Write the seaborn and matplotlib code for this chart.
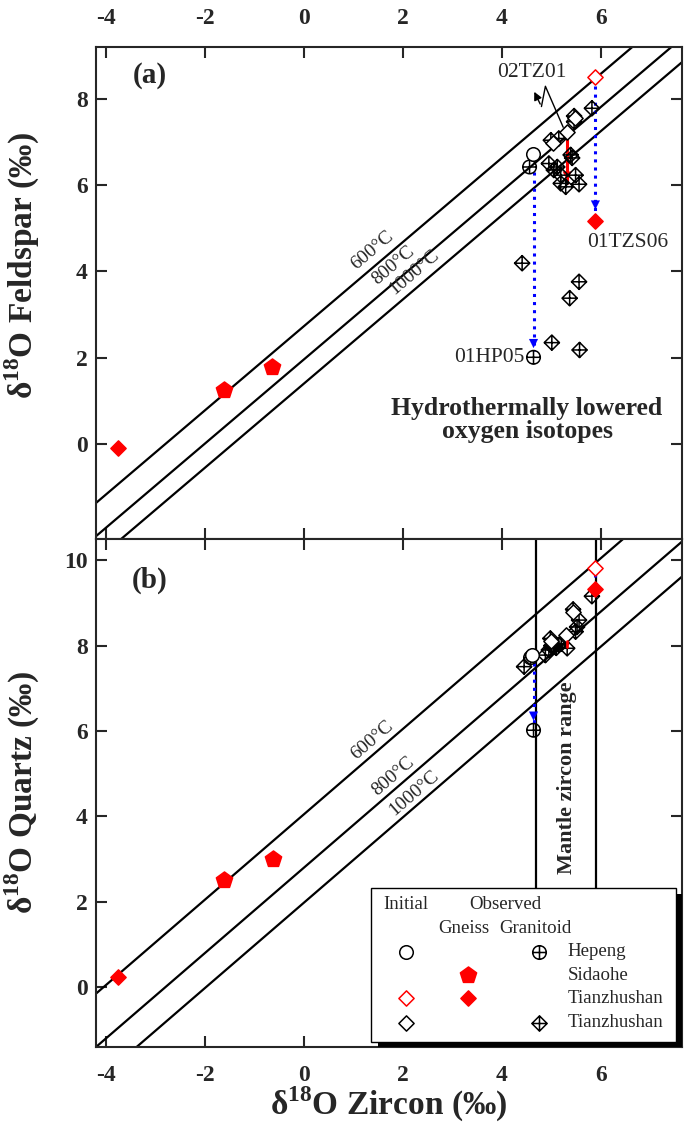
import numpy as np
import pandas as pd
import seaborn as sns
import matplotlib.pyplot as plt
from matplotlib.path import Path
from matplotlib.patches import Rectangle

sns.set_style('ticks')
plt.rcParams['font.family'] = ['Liberation Serif', 'DejaVu Serif']
plt.rcParams['mathtext.fontset'] = 'custom'
plt.rcParams['mathtext.rm'] = 'Liberation Serif'
plt.rcParams['mathtext.bf'] = 'Liberation Serif:bold'
plt.rcParams['axes.unicode_minus'] = False

# equilibrium fractionations mineral - zircon (permil) at zircon = 0
temps = ['600°C', '800°C', '1000°C']
fsp_delta = [2.73, 1.96, 1.40]
fsp_slope = 0.975
qz_delta = [4.05, 2.80, 1.98]
qz_slope = 1.0
label_x = [1.50, 1.92, 2.34]
mantle_range = [4.7, 5.9]

# (a) feldspar panel
a_hp_init_x = [4.62]
a_hp_init_y = [6.72]
a_hp_obs_x = [4.56, 4.64]
a_hp_obs_y = [6.42, 2.01]
a_sd_obs_x = [-1.62, -0.64]
a_sd_obs_y = [1.25, 1.79]
a_tzg_init_x = [5.89]
a_tzg_init_y = [8.50]
a_tzg_obs_x = [5.89, -3.75]
a_tzg_obs_y = [5.17, -0.10]
a_tzr_init_x = [5.32, 5.48, 5.03]
a_tzr_init_y = [7.22, 7.55, 6.98]
a_tzr_obs_x = [5.82, 5.46, 5.46, 4.99, 5.15, 5.39, 5.42, 4.95, 5.12, 5.05, 5.19, 5.49, 5.19, 5.29,
               5.56, 4.41, 5.56, 5.37, 5.01, 5.57]
a_tzr_obs_y = [7.78, 7.60, 7.47, 7.04, 7.08, 6.70, 6.63, 6.50, 6.42, 6.35, 6.23, 6.23, 6.04, 5.96,
               6.02, 4.19, 3.76, 3.38, 2.35, 2.18]

# (b) quartz panel
b_hp_init_x = [4.61]
b_hp_init_y = [7.78]
b_hp_obs_x = [4.58, 4.64]
b_hp_obs_y = [7.72, 6.02]
b_sd_obs_x = [-1.62, -0.63]
b_sd_obs_y = [2.51, 3.00]
b_tzg_init_x = [5.89]
b_tzg_init_y = [9.83]
b_tzg_obs_x = [5.89, -3.75]
b_tzg_obs_y = [9.33, 0.25]
b_tzr_init_x = [5.30, 5.44, 5.00]
b_tzr_init_y = [8.25, 8.80, 8.10]
b_tzr_obs_x = [5.82, 5.44, 5.56, 5.52, 5.49, 5.32, 4.98, 5.05, 4.95, 4.88, 5.15, 4.45, 5.10, 5.20, 5.00]
b_tzr_obs_y = [9.16, 8.85, 8.60, 8.44, 8.33, 7.94, 8.17, 7.97, 7.90, 7.78, 8.02, 7.51, 7.95, 8.05, 8.00]

# custom markers
M, L = Path.MOVETO, Path.LINETO
diamond = Path([[0, 1], [1, 0], [0, -1], [-1, 0], [0, 1]], [M, L, L, L, Path.CLOSEPOLY])
cross = Path([[0, 1], [0, -1], [-1, 0], [1, 0]], [M, L, M, L])
diamond_plus = Path.make_compound_path(diamond, cross)
circle_plus = Path.make_compound_path(Path.unit_circle(), cross)

styles = {
    'hp_init': dict(marker='o', s=95, facecolor='white', edgecolor='black'),
    'hp_obs': dict(marker=circle_plus, s=95, facecolor='none', edgecolor='black'),
    'sd_obs': dict(marker='p', s=150, facecolor='red', edgecolor='red'),
    'tzg_init': dict(marker=diamond, s=120, facecolor='white', edgecolor='red'),
    'tzg_obs': dict(marker=diamond, s=120, facecolor='red', edgecolor='red'),
    'tzr_init': dict(marker=diamond, s=120, facecolor='white', edgecolor='black'),
    'tzr_obs': dict(marker=diamond_plus, s=120, facecolor='none', edgecolor='black'),
}


def make_df(prefix):
    g = globals()
    rows = []
    for key in styles:
        xs = g[f'{prefix}_{key}_x']
        ys = g[f'{prefix}_{key}_y']
        rows += [(key, x, y) for x, y in zip(xs, ys)]
    return pd.DataFrame(rows, columns=['group', 'zircon', 'mineral'])


def arrow(ax, x, y0, y1, color, ls):
    ax.plot([x, x], [y0, y1], color=color, ls=ls, lw=2.2, zorder=4)
    ax.annotate('', xy=(x, y1), xytext=(x, y1 + 0.3),
                arrowprops=dict(arrowstyle='-|>', color=color, lw=0.1, mutation_scale=16), zorder=4)


def draw_panel(ax, df, deltas, slope, lab_off, tag, tag_y):
    ang = np.degrees(np.arctan(slope))
    for d, t, lx in zip(deltas, temps, label_x):
        ax.axline((0, d), slope=slope, color='black', lw=1.6, zorder=1)
        ax.text(lx, slope * lx + d + lab_off, t, fontsize=14, ha='center', va='bottom', rotation=ang,
                rotation_mode='anchor', transform_rotates_text=True)
    order = ['tzr_obs', 'tzr_init', 'hp_obs', 'hp_init', 'sd_obs', 'tzg_init', 'tzg_obs']
    for key in order:
        sub = df[df['group'] == key]
        sns.scatterplot(data=sub, x='zircon', y='mineral', ax=ax, linewidth=1.1, zorder=5,
                        legend=False, **styles[key])
    ax.set_xlim(-4.2, 7.64)
    ax.set_xticks([-4, -2, 0, 2, 4, 6])
    ax.tick_params(direction='in', length=8, width=1.5, top=True, right=True, labelsize=17, pad=6)
    for sp in ax.spines.values():
        sp.set_linewidth(1.5)
    ax.text(0.092, tag_y, tag, transform=ax.transAxes, fontsize=21, fontweight='bold',
            ha='center', va='center')


fig = plt.figure(figsize=(6.85, 11.43), dpi=100)
ax1 = fig.add_axes([96 / 685, 1 - 539 / 1143, 586 / 685, 492 / 1143])
ax2 = fig.add_axes([96 / 685, 1 - 1047 / 1143, 586 / 685, 508 / 1143])

df_a = make_df('a')
df_b = make_df('b')

draw_panel(ax1, df_a, fsp_delta, fsp_slope, 0.15, '(a)', 0.943)
ax1.set_ylim(-2.2, 9.2)
ax1.set_yticks([0, 2, 4, 6, 8])
ax1.tick_params(labeltop=True, labelbottom=False)
ax1.tick_params(axis='x', pad=13)
ax1.set_ylabel('δ$^{\\mathbf{18}}$O Feldspar (‰)', fontsize=24, fontweight='bold')
ax1.yaxis.set_label_coords(-0.125, 0.555)
ax1.yaxis.label.set_va('center')
for lab in ax1.get_xticklabels() + ax1.get_yticklabels():
    lab.set_fontweight('bold')

arrow(ax1, a_hp_obs_x[1], a_hp_obs_y[0] - 0.12, a_hp_obs_y[1] + 0.15, 'blue', ':')
arrow(ax1, a_tzg_init_x[0], a_tzg_init_y[0] - 0.2, a_tzg_obs_y[0] + 0.2, 'blue', ':')
arrow(ax1, a_tzr_init_x[0], a_tzr_init_y[0] - 0.17, 6.04, 'red', '-')
ax1.plot([5.24, 4.88, 4.80], [7.34, 8.29, 7.82], color='black', lw=1.0, zorder=6)
ax1.annotate('', xy=(4.63, 8.22), xytext=(4.80, 7.82),
             arrowprops=dict(arrowstyle='-|>', color='black', lw=1.0, mutation_scale=12), zorder=6)
ax1.text(4.61, 8.6, '02TZ01', fontsize=15.5, ha='center', va='center')
ax1.text(6.55, 4.68, '01TZS06', fontsize=15.5, ha='center', va='center')
ax1.text(4.45, 2.01, '01HP05', fontsize=15.5, ha='right', va='center')
ax1.text(4.51, 0.56, 'Hydrothermally lowered\noxygen isotopes', fontsize=18.5, fontweight='bold',
         ha='center', va='center', linespacing=1.0)

draw_panel(ax2, df_b, qz_delta, qz_slope, 0.08, '(b)', 0.919)
ax2.set_ylim(-1.4, 10.5)
ax2.set_yticks([0, 2, 4, 6, 8, 10])
ax2.tick_params(axis='x', pad=13)
ax2.set_ylabel('δ$^{\\mathbf{18}}$O Quartz (‰)', fontsize=24, fontweight='bold')
ax2.yaxis.set_label_coords(-0.125, 0.5)
ax2.yaxis.label.set_va('center')
ax2.set_xlabel('δ$^{\\mathbf{18}}$O Zircon (‰)', fontsize=24, fontweight='bold')
ax2.xaxis.set_label_coords(0.499, -0.114)
ax2.xaxis.label.set_va('center')
for lab in ax2.get_xticklabels() + ax2.get_yticklabels():
    lab.set_fontweight('bold')

for xm in mantle_range:
    ax2.axvline(xm, color='black', lw=1.6, zorder=2)
ax2.text(np.mean(mantle_range) + 0.01, 4.9, 'Mantle zircon range', rotation=90, fontsize=16,
         fontweight='bold', ha='center', va='center')
arrow(ax2, b_hp_init_x[0] + 0.03, b_hp_init_y[0] - 0.18, b_hp_obs_y[1] + 0.16, 'blue', ':')
ax2.plot([5.89, 5.89], [9.68, 9.5], color='blue', ls=':', lw=2.2, zorder=4)
ax2.plot([5.32, 5.32], [8.1, 7.98], color='red', lw=2.0, zorder=6)

# legend table
ax2.add_patch(Rectangle((0.481, 0.0), 0.519, 0.301, transform=ax2.transAxes,
                        facecolor='black', edgecolor='none', zorder=8))
ax2.add_patch(Rectangle((0.470, 0.0105), 0.519, 0.302, transform=ax2.transAxes,
                        facecolor='white', edgecolor='black', lw=1.0, zorder=9))
tr = ax2.transAxes
fs = 13.6
ax2.text(0.490, 0.280, 'Initial', transform=tr, fontsize=fs, va='center', ha='left', zorder=10)
ax2.text(0.698, 0.280, 'Observed', transform=tr, fontsize=fs, va='center', ha='center', zorder=10)
ax2.text(0.628, 0.234, 'Gneiss', transform=tr, fontsize=fs, va='center', ha='center', zorder=10)
ax2.text(0.749, 0.234, 'Granitoid', transform=tr, fontsize=fs, va='center', ha='center', zorder=10)
legend_rows = [
    (0.1876, 'hp_init', None, 'hp_obs', 'Hepeng'),
    (0.1417, None, 'sd_obs', None, 'Sidaohe'),
    (0.0959, 'tzg_init', 'tzg_obs', None, 'Tianzhushan'),
    (0.0478, 'tzr_init', None, 'tzr_obs', 'Tianzhushan'),
]
for ry, c1, c2, c3, name in legend_rows:
    for cx, key in zip([0.529, 0.635, 0.756], [c1, c2, c3]):
        if key is None:
            continue
        st = dict(styles[key])
        st['facecolor'] = 'white' if st['facecolor'] == 'none' else st['facecolor']
        ax2.scatter([cx], [ry], transform=tr, linewidth=1.1, zorder=10, clip_on=False, **st)
    ax2.text(0.805, ry, name, transform=tr, fontsize=fs, va='center', ha='left', zorder=10)

fig.savefig('out.png', dpi=100)
